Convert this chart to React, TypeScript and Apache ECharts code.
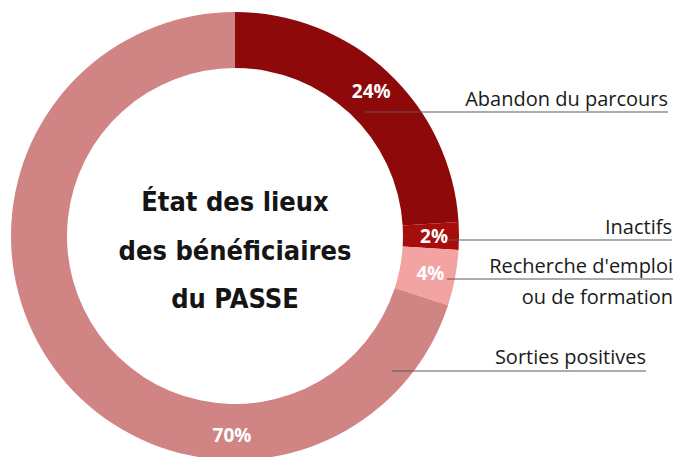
import React, { useEffect, useRef } from "react";
import * as echarts from "echarts";

const categories = [
  "Abandon du parcours",
  "Inactifs",
  "Recherche d'emploi\nou de formation",
  "Sorties positives",
];
const values = [24, 2, 4, 70];
const colors = ["#8E0A0A", "#A80D0D", "#F4A3A3", "#D08484"];
const centerTitle = "État des lieux\ndes bénéficiaires\ndu PASSE";

// annotation layout (pixels): line start x, line end x, line y, text y
const annoLayout = [
  { x1: 365, x2: 668, y: 112, ty: 98, va: "middle" },
  { x1: 447, x2: 672, y: 240, ty: 226, va: "middle" },
  { x1: 447, x2: 673, y: 279, ty: 281, va: "middle" },
  { x1: 392, x2: 646, y: 371, ty: 356, va: "middle" },
];

const CX = 235;
const CY = 236;
const R_IN = 168;
const R_OUT = 224;

export default function App() {
  const ref = useRef<HTMLDivElement>(null);
  useEffect(() => {
    if (!ref.current) return;
    const chart = echarts.init(ref.current, null, { renderer: "svg" });
    const graphic: any[] = [];
    categories.forEach((name, i) => {
      const l = annoLayout[i];
      graphic.push({
        type: "line",
        shape: { x1: l.x1, y1: l.y, x2: l.x2, y2: l.y },
        style: { stroke: "#5a5a5a", lineWidth: 1.2 },
        z: 10,
      });
      graphic.push({
        type: "text",
        x: l.x2,
        y: l.ty,
        style: {
          text: name,
          fill: "#1a1a1a",
          font: "20px 'Open Sans'",
          align: "right",
          verticalAlign: l.va,
          lineHeight: 31,
        },
        z: 10,
      });
    });
    graphic.push({
      type: "text",
      x: CX,
      y: 250,
      style: {
        text: centerTitle,
        fill: "#151515",
        font: "bold 27px 'DejaVu Sans Condensed'",
        align: "center",
        verticalAlign: "middle",
        lineHeight: 48.5,
      },
      z: 10,
    });
    chart.setOption({
      animation: false,
      backgroundColor: "#ffffff",
      graphic,
      series: [
        {
          type: "pie",
          center: [CX, CY],
          radius: [R_IN, R_OUT],
          startAngle: 90,
          clockwise: true,
          silent: true,
          data: categories.map((name, i) => ({
            name,
            value: values[i],
            itemStyle: { color: colors[i] },
          })),
          label: {
            show: true,
            position: "inside",
            formatter: "{c}%",
            color: "#ffffff",
            fontFamily: "'Open Sans'",
            fontWeight: "bold",
            fontSize: 19,
          },
          labelLine: { show: false },
          labelLayout: (params: any) => {
            if (params.dataIndex === 3) {
              return { x: CX - 3, y: CY + (R_IN + R_OUT) / 2 + 3 };
            }
            return {};
          },
        },
      ],
    });
    return () => chart.dispose();
  }, []);
  return (
    <div
      ref={ref}
      style={{ position: "absolute", left: 0, top: 0, width: 675, height: 457 }}
    />
  );
}
